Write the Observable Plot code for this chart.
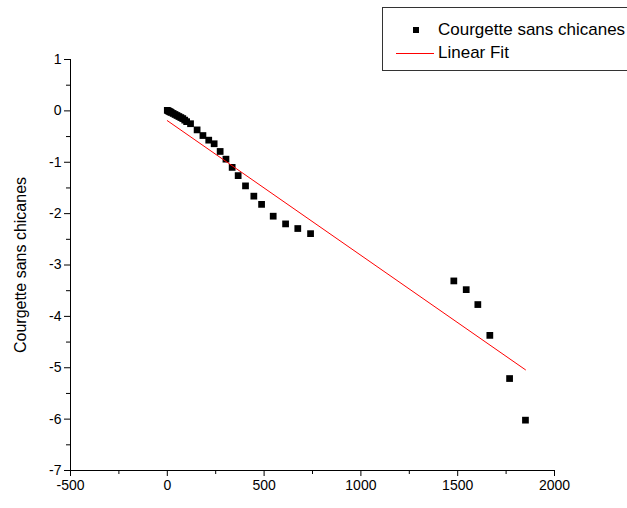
<!DOCTYPE html>
<html>
<head>
<meta charset="utf-8">
<script src="https://cdn.jsdelivr.net/npm/d3@7"></script>
<script src="https://cdn.jsdelivr.net/npm/@observablehq/plot@0.6"></script>
<style>
  html, body { margin: 0; padding: 0; background: white; }
  #wrap { position: relative; width: 627px; height: 508px; overflow: hidden; font-family: "Liberation Sans", Arial, sans-serif; }
  #legend { position: absolute; left: 382px; top: 7px; width: 270px; height: 62px; border: 1px solid #333; background: white; }
  .lg-row { position: absolute; left: 0; height: 20px; line-height: 20px; font-size: 17px; color: #000; white-space: nowrap; }
  .lg-text { position: absolute; left: 55px; top: 0; }
  .lg-sq { position: absolute; left: 30px; top: 7px; width: 6px; height: 6px; background: #000; }
  .lg-svg { position: absolute; left: 13px; top: 9px; }
</style>
</head>
<body>
<div id="wrap">
  <div id="chart"></div>
  <div id="legend">
    <div class="lg-row" style="top:12px"><div class="lg-sq"></div><span class="lg-text">Courgette sans chicanes</span></div>
    <div class="lg-row" style="top:35px"><svg class="lg-svg" width="38" height="3"><line x1="0" x2="38" y1="1.5" y2="1.5" stroke="red" stroke-width="1.2"></line></svg><span class="lg-text">Linear Fit</span></div>
  </div>
</div>
<script>
// Data
const xValues = [0, 5, 10, 15, 20, 30, 40, 50, 60, 70, 80, 90, 100,
  120, 154, 184, 214, 242, 273, 303, 335, 366, 404, 447, 487, 547, 611, 674, 740,
  1480, 1544, 1604, 1666, 1768, 1850];
const yValues = [0.01, 0.0, -0.01, -0.02, -0.03, -0.05, -0.07, -0.09, -0.11, -0.13, -0.15, -0.18, -0.21,
  -0.25, -0.37, -0.48, -0.57, -0.64, -0.79, -0.94, -1.10, -1.26, -1.46, -1.66, -1.82, -2.05, -2.20, -2.29, -2.39,
  -3.31, -3.48, -3.77, -4.37, -5.21, -6.02];
const fitX = [0, 1850];
const fitY = [-0.19, -5.04];
const xTicks = [-500, 0, 500, 1000, 1500, 2000];
const xMinorTicks = [-250, 250, 750, 1250, 1750];
const yTicks = [1, 0, -1, -2, -3, -4, -5, -6, -7];
const yMinorTicks = [0.5, -0.5, -1.5, -2.5, -3.5, -4.5, -5.5, -6.5];
const xDomain = [-500, 2000];
const yDomain = [-7, 1];
const yLabel = "Courgette sans chicanes";

const chart = Plot.plot({
  width: 627,
  height: 508,
  marginTop: 59,
  marginBottom: 38,
  marginLeft: 70,
  marginRight: 73,
  x: {domain: xDomain},
  y: {domain: yDomain},
  style: {fontFamily: "'Liberation Sans', Arial, sans-serif", fontSize: "14px", color: "black", background: "white"},
  marks: [
    Plot.ruleX([xDomain[0]], {stroke: "black", strokeWidth: 1}),
    Plot.ruleY([yDomain[0]], {stroke: "black", strokeWidth: 1}),
    Plot.axisX(xTicks, {tickSize: 6, tickPadding: 4, tickFormat: d => String(d), label: null, fontSize: 14}),
    Plot.axisX(xMinorTicks, {tickSize: 4, tickFormat: () => "", label: null}),
    Plot.axisY(yTicks, {tickSize: 6, tickPadding: 3, tickFormat: d => String(d), label: null, fontSize: 14}),
    Plot.axisY(yMinorTicks, {tickSize: 4, tickFormat: () => "", label: null}),
    Plot.text([yLabel], {frameAnchor: "left", textAnchor: "middle", lineAnchor: "middle", rotate: -90, dx: -50, fontSize: 16, text: d => d}),
    Plot.dot(xValues, {x: xValues, y: yValues, symbol: "square", fill: "black", r: 3.8}),
    Plot.line(fitX, {x: fitX, y: fitY, stroke: "red", strokeWidth: 1})
  ]
});
document.getElementById("chart").appendChild(chart);
</script>
</body>
</html>
